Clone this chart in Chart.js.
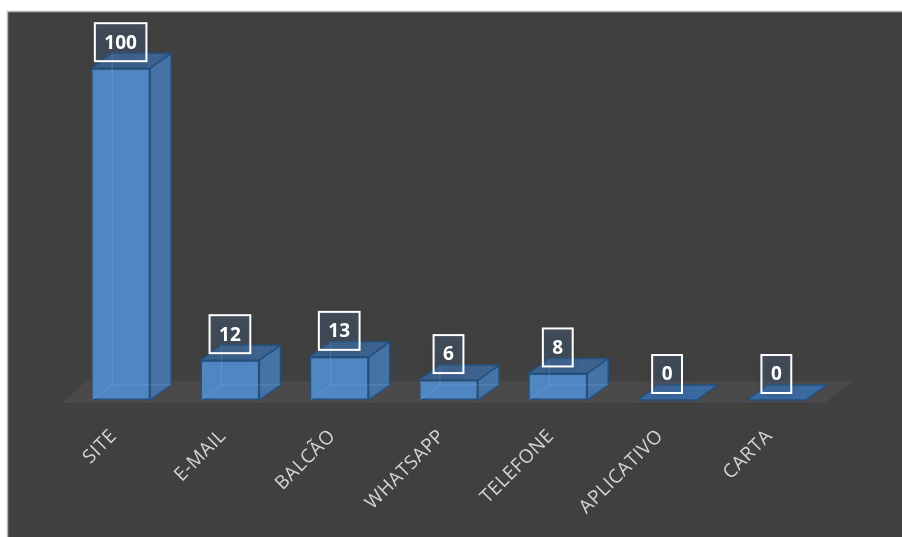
<!DOCTYPE html>
<html lang="pt-BR">
<head>
<meta charset="UTF-8">
<title>Canais de atendimento</title>
<script src="https://cdn.jsdelivr.net/npm/chart.js"></script>
<style>
    html, body { margin: 0; padding: 0; background: #ffffff; }
    #grafico { display: block; }
</style>
</head>
<body>
<canvas id="grafico" width="902" height="537"></canvas>
<script>
// dados
const categorias = ['SITE', 'E-MAIL', 'BALCÃO', 'WHATSAPP', 'TELEFONE', 'APLICATIVO', 'CARTA'];
const valores = [100, 12, 13, 6, 8, 0, 0];
const eixoMin = 0;
const eixoMax = 110;

// profundidade do efeito 3D
const prof = { dx: 21, dy: 15 };

const fundo = {
    id: 'fundo',
    beforeDraw(chart) {
        const ctx = chart.ctx;
        ctx.save();
        ctx.fillStyle = '#ffffff';
        ctx.fillRect(0, 0, chart.width, chart.height);
        ctx.fillStyle = '#404040';
        ctx.fillRect(8, 12, chart.width - 8, chart.height - 12);
        ctx.strokeStyle = '#b8b8b8';
        ctx.lineWidth = 1.5;
        ctx.beginPath();
        ctx.moveTo(7.5, chart.height);
        ctx.lineTo(7.5, 11.5);
        ctx.lineTo(chart.width, 11.5);
        ctx.stroke();
        ctx.restore();
    },
    beforeDatasetsDraw(chart) {
        // piso
        const a = chart.chartArea;
        const ctx = chart.ctx;
        ctx.save();
        ctx.fillStyle = '#4b4949';
        ctx.beginPath();
        ctx.moveTo(a.left - 4, a.bottom + 3);
        ctx.lineTo(a.right - 6, a.bottom + 3);
        ctx.lineTo(a.right + 22, a.bottom - 19);
        ctx.lineTo(a.left + 20, a.bottom - 19);
        ctx.closePath();
        ctx.fill();
        ctx.restore();
    }
};

const barras3d = {
    id: 'barras3d',
    afterDatasetsDraw(chart) {
        const ctx = chart.ctx;
        const { dx, dy } = prof;
        chart.getDatasetMeta(0).data.forEach(bar => {
            const l = bar.x - bar.width / 2;
            const r = bar.x + bar.width / 2;
            const t = Math.min(bar.y, bar.base);
            const b = bar.base;
            ctx.save();
            ctx.lineJoin = 'round';
            ctx.strokeStyle = '#23507f';
            ctx.lineWidth = 1.5;
            // lado direito
            ctx.fillStyle = '#4673a6';
            ctx.beginPath();
            ctx.moveTo(r, t);
            ctx.lineTo(r + dx, t - dy);
            ctx.lineTo(r + dx, b - dy);
            ctx.lineTo(r, b);
            ctx.closePath();
            ctx.fill();
            ctx.stroke();
            // topo
            ctx.fillStyle = b - t < 1 ? '#3a69a0' : '#3d638e';
            ctx.beginPath();
            ctx.moveTo(l, t);
            ctx.lineTo(l + dx, t - dy);
            ctx.lineTo(r + dx, t - dy);
            ctx.lineTo(r, t);
            ctx.closePath();
            ctx.fill();
            ctx.stroke();
            // arestas escondidas (transparência)
            if (b - t > 1) {
                ctx.strokeStyle = 'rgba(130,175,225,0.35)';
                ctx.lineWidth = 1;
                ctx.beginPath();
                ctx.moveTo(l + dx, t - dy);
                ctx.lineTo(l + dx, b - dy);
                ctx.lineTo(r + dx, b - dy);
                ctx.moveTo(l + dx, b - dy);
                ctx.lineTo(l, b);
                ctx.stroke();
            }
            ctx.restore();
        });
    },
    afterDraw(chart) {
        const ctx = chart.ctx;
        const xs = chart.scales.x;
        const meta = chart.getDatasetMeta(0);
        // rótulos do eixo x
        ctx.save();
        ctx.fillStyle = '#d4d4d4';
        ctx.font = '19px "Open Sans"';
        ctx.letterSpacing = '0.5px';
        ctx.textAlign = 'right';
        ctx.textBaseline = 'alphabetic';
        categorias.forEach((c, i) => {
            const x = xs.getPixelForValue(i);
            ctx.save();
            ctx.translate(x - 3, 437);
            ctx.rotate(-Math.PI / 4);
            ctx.fillText(c, 0, 0);
            ctx.restore();
        });
        ctx.restore();
        // rótulos de dados
        ctx.save();
        ctx.font = 'bold 19px "Open Sans"';
        ctx.textAlign = 'center';
        ctx.textBaseline = 'middle';
        meta.data.forEach((bar, i) => {
            const txt = String(valores[i]);
            const w = ctx.measureText(txt).width + 19;
            const h = 38;
            const x = bar.x - w / 2;
            const y = Math.min(bar.y, bar.base) - 7 - h;
            ctx.save();
            ctx.shadowColor = 'rgba(0,0,0,0.45)';
            ctx.shadowBlur = 10;
            ctx.shadowOffsetY = 3;
            ctx.fillStyle = 'rgba(85,125,175,0.25)';
            ctx.fillRect(x, y, w, h);
            ctx.restore();
            ctx.strokeStyle = '#ffffff';
            ctx.lineWidth = 2;
            ctx.strokeRect(x, y, w, h);
            ctx.fillStyle = '#ffffff';
            ctx.fillText(txt, bar.x, y + h / 2 + 1);
        });
        ctx.restore();
    }
};

new Chart(document.getElementById('grafico'), {
    type: 'bar',
    data: {
        labels: categorias,
        datasets: [{
            data: valores,
            backgroundColor: '#4f87c3',
            borderColor: '#23507f',
            borderWidth: 1.5,
            borderSkipped: false,
            barPercentage: 0.54,
            categoryPercentage: 1
        }]
    },
    options: {
        responsive: false,
        animation: false,
        devicePixelRatio: 1,
        layout: { padding: { left: 66, right: 71, top: 35, bottom: 137 } },
        plugins: { legend: { display: false }, tooltip: { enabled: false } },
        scales: {
            x: { display: false },
            y: { display: false, min: eixoMin, max: eixoMax }
        }
    },
    plugins: [fundo, barras3d]
});
</script>
</body>
</html>
